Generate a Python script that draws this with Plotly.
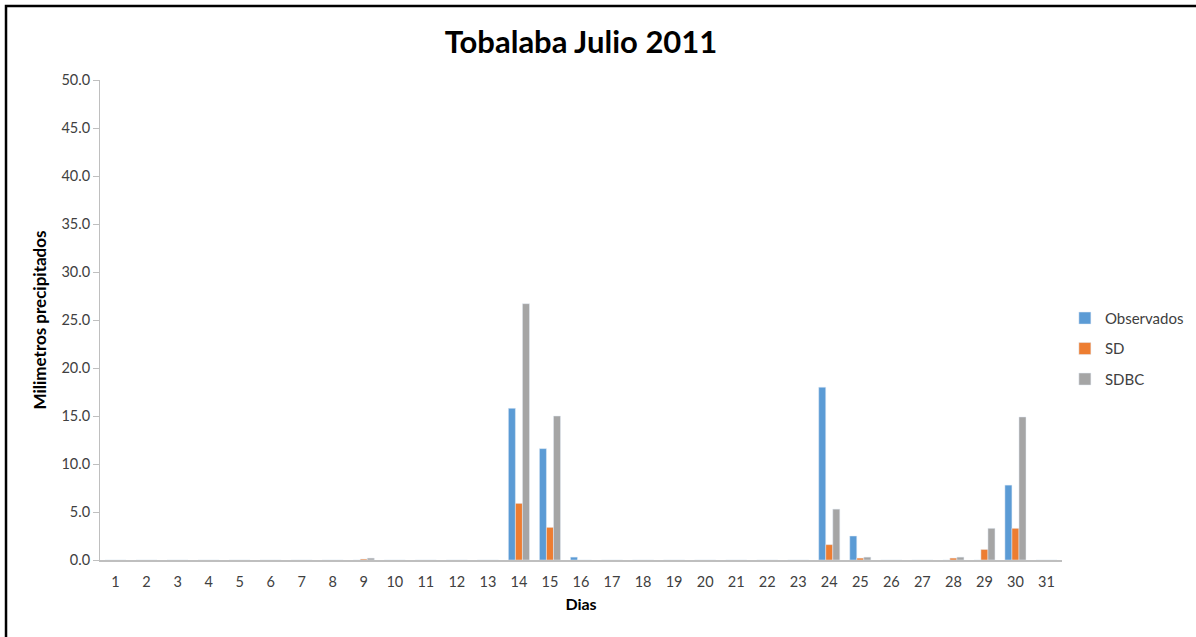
import plotly.graph_objects as go

days = [str(d) for d in range(1, 32)]

observados = [0, 0, 0, 0, 0, 0, 0, 0, 0, 0, 0, 0, 0, 15.8, 11.6, 0.3, 0, 0, 0, 0,
              0, 0, 0, 18.0, 2.5, 0, 0, 0, 0, 7.8, 0]
sd = [0, 0, 0, 0, 0, 0, 0, 0, 0.1, 0, 0, 0, 0, 5.9, 3.4, 0, 0, 0, 0, 0,
      0, 0, 0, 1.6, 0.2, 0, 0, 0.2, 1.1, 3.3, 0]
sdbc = [0, 0, 0, 0, 0, 0, 0, 0, 0.2, 0, 0, 0, 0, 26.7, 15.0, 0, 0, 0, 0, 0,
        0, 0, 0, 5.3, 0.3, 0, 0, 0.3, 3.3, 14.9, 0]

y_ticks = [0, 5, 10, 15, 20, 25, 30, 35, 40, 45, 50]

font_family = "Lato, 'Open Sans', sans-serif"

fig = go.Figure()
for name, vals, color in [("Observados", observados, "#5B9BD5"),
                          ("SD", sd, "#ED7D31"),
                          ("SDBC", sdbc, "#A5A5A5")]:
    fig.add_trace(go.Bar(x=days, y=vals, name=name, marker_color=color,
                         legendgroup=name))

fig.update_layout(
    width=1196, height=637,
    margin=dict(l=100, r=134, t=80, b=77, autoexpand=False),
    paper_bgcolor="white", plot_bgcolor="white",
    barmode="group", bargap=0.32, bargroupgap=0,
    font=dict(family=font_family, size=14, color="#595959"),
    title=dict(text="<b>Tobalaba Julio 2011</b>", x=0.5, xanchor="center",
               xref="paper", y=0.934, yanchor="middle",
               font=dict(size=31, color="black", family=font_family)),
    legend=dict(x=1.003, xanchor="left", y=0.44, yanchor="middle",
                font=dict(size=15, color="#404040"), tracegroupgap=8,
                itemwidth=30, bgcolor="rgba(0,0,0,0)"),
    xaxis=dict(type="category", showline=True, linecolor="#BFBFBF", linewidth=1.5,
               ticks="", showgrid=False, tickfont=dict(size=14.5, color="#404040"),
               ticklabelstandoff=8,
               title=dict(text="<b>Dias</b>", font=dict(size=16, color="black"),
                          standoff=10)),
    yaxis=dict(range=[0, 50], tickvals=y_ticks, tickformat=".1f",
               showline=True, linecolor="#BFBFBF", linewidth=1,
               ticks="outside", ticklen=6, tickcolor="#BFBFBF",
               showgrid=False, zeroline=False,
               tickfont=dict(size=14.5, color="#404040"),
               title=dict(text="<b>Milimetros precipitados</b>",
                          font=dict(size=17, color="black"), standoff=10)),
    shapes=[dict(type="rect", xref="paper", yref="paper",
                 x0=-0.0977, x1=1.2, y0=-0.3, y1=1.154,
                 line=dict(color="black", width=2.5), fillcolor="rgba(0,0,0,0)",
                 layer="above")],
)

fig.write_html("out.html")
